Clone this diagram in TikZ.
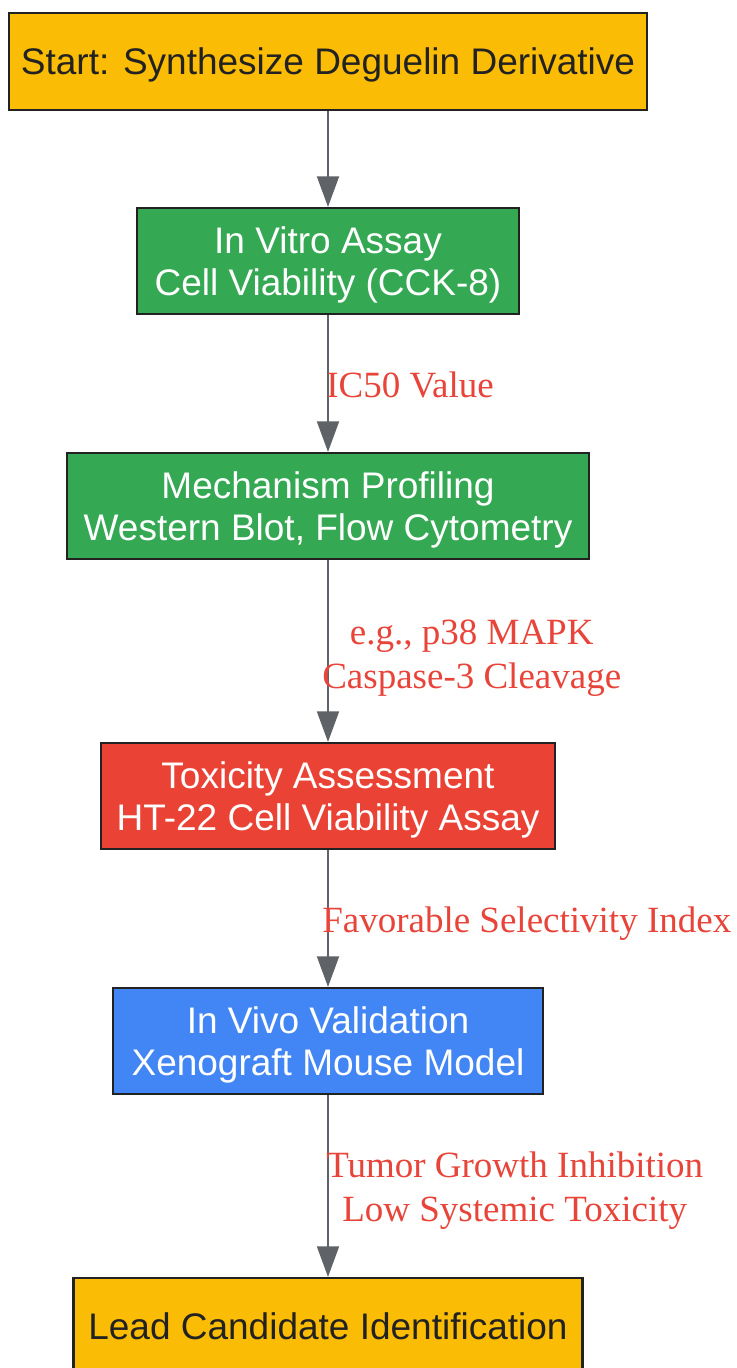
\documentclass[tikz,border=0pt]{standalone}
\usepackage{fontspec}
\setmainfont{Liberation Sans}
\newfontfamily\labelfont{Liberation Serif}
\usetikzlibrary{arrows.meta}
\definecolor{gyellow}{HTML}{FBBC05}
\definecolor{ggreen}{HTML}{34A853}
\definecolor{gred}{HTML}{EA4335}
\definecolor{gblue}{HTML}{4285F4}
\definecolor{edgegray}{HTML}{5F6368}
\definecolor{borderdark}{HTML}{222222}
\definecolor{labelred}{HTML}{E8443A}
\tikzset{
  stepbox/.style={draw=borderdark, line width=1.6pt, rectangle, align=center, inner sep=0pt,
    text depth=0pt, font=\fontsize{27.75pt}{31.5pt}\selectfont},
  darktext/.style={stepbox, fill=gyellow, text=borderdark},
  lighttext/.style={stepbox, text=white},
  flow/.style={draw=edgegray, line width=1.5pt, -{Triangle[length=23pt, width=16.5pt]}},
  edgelabel/.style={anchor=west, inner sep=0pt, align=center, text=labelred, text depth=0pt,
    font=\labelfont\fontsize{27.75pt}{33pt}\selectfont}
}
\begin{document}
\begin{tikzpicture}[x=0.75pt, y=-0.75pt]
\useasboundingbox (0,0) rectangle (737,1368);
\clip (0,0) rectangle (737,1368);
\fill[white] (0,0) rectangle (737,1368);
\node[darktext, minimum width=638*0.75pt, minimum height=97*0.75pt] (start) at (328,61.5) {Start: Synthesize Deguelin Derivative};
\node[lighttext, fill=ggreen, minimum width=382*0.75pt, minimum height=106*0.75pt] (vitro) at (328,261) {In Vitro Assay\\Cell Viability (CCK-8)};
\node[lighttext, fill=ggreen, minimum width=522*0.75pt, minimum height=106*0.75pt] (mech) at (328,506) {Mechanism Profiling\\Western Blot, Flow Cytometry};
\node[lighttext, fill=gred, minimum width=454*0.75pt, minimum height=106*0.75pt] (tox) at (328,796) {Toxicity Assessment\\HT-22 Cell Viability Assay};
\node[lighttext, fill=gblue, minimum width=430*0.75pt, minimum height=106*0.75pt] (vivo) at (328,1041) {In Vivo Validation\\Xenograft Mouse Model};
\node[darktext, minimum width=509*0.75pt, minimum height=97*0.75pt] (lead) at (328,1326.5) {Lead Candidate Identification};
\draw[flow] (start) -- (vitro);
\draw[flow] (vitro) -- (mech);
\draw[flow] (mech) -- (tox);
\draw[flow] (tox) -- (vivo);
\draw[flow] (vivo) -- (lead);
\node[edgelabel] (l1) at (326,385) {IC50 Value};
\node[edgelabel] (l2) at (322,654) {e.g., p38 MAPK\\Caspase-3 Cleavage};
\node[edgelabel] (l3) at (322,920) {Favorable Selectivity Index};
\node[edgelabel] (l4) at (326,1187) {Tumor Growth Inhibition\\Low Systemic Toxicity};
\end{tikzpicture}
\end{document}
